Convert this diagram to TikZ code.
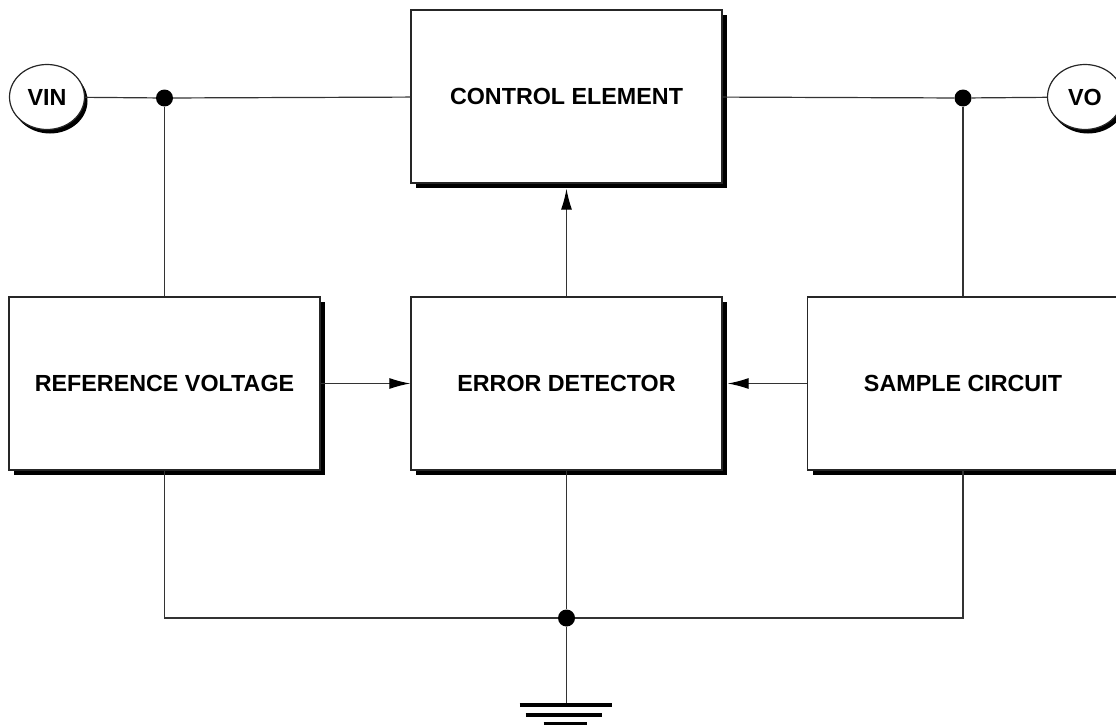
\documentclass[tikz,border=0pt]{standalone}
\usepackage{fontspec}
\setmainfont{Liberation Sans}
\usetikzlibrary{shapes.geometric, shadows, arrows.meta}

\begin{document}
\begin{tikzpicture}
[every node/.style={inner sep=0pt},
 block/.style={rectangle, draw=black!85, line width=1.4pt, fill=white, minimum width=311pt, minimum height=173pt,
   font=\bfseries\fontsize{23.3}{28}\selectfont,
   general shadow={fill=black, shadow xshift=5pt, shadow yshift=-5pt}},
 port/.style={ellipse, draw=black!85, line width=1.2pt, fill=white, minimum width=75pt, minimum height=65pt,
   font=\bfseries\fontsize{23.3}{28}\selectfont,
   general shadow={fill=black, shadow xshift=3pt, shadow yshift=-4pt}},
 dot/.style={circle, fill=black, minimum size=17pt},
 wire/.style={line width=1.2pt, color=black!80},
 sig/.style={wire, -{Latex[length=21pt, width=11pt, black]}},
 earth/.style={line width=4pt, color=black}]
\useasboundingbox (0pt, 0pt) rectangle (1116pt, -725pt);

% blocks
\node (ctrl) [block] at (566.5pt, -96.5pt) {CONTROL ELEMENT};
\node (ref) [block] at (164.5pt, -383.5pt) {REFERENCE VOLTAGE};
\node (err) [block] at (566.5pt, -383.5pt) {ERROR DETECTOR};
\node (smp) [block] at (963pt, -383.5pt) {SAMPLE CIRCUIT};

% terminals and junctions
\node (vin) [port] at (47pt, -97pt) {VIN};
\node (vo) [port] at (1085pt, -97pt) {VO};
\node (jin) [dot] at (164.5pt, -98pt) {};
\node (jout) [dot] at (963pt, -98pt) {};
\node (jgnd) [dot] at (566.5pt, -618pt) {};
\coordinate (gnd) at (566.5pt, -705pt);

% main line
\draw [wire] (vin) to (jin);
\draw [wire] (jin) to (ctrl);
\draw [wire] (ctrl) to (jout);
\draw [wire] (jout) to (vo);
\draw [wire] (jin) to (ref);
\draw [wire] (jout) to (smp);

% feedback
\draw [sig] (ref) to (err);
\draw [sig, shorten >=5pt] (smp) to (err);
\draw [sig, shorten >=5pt] (err) to (ctrl);

% common return
\draw [wire] (ref.south) |- (jgnd) -| (smp.south);
\draw [wire] (err) to (jgnd);
\draw [wire] (jgnd) to (gnd);
\draw [earth] ([xshift=-47pt]gnd) to ([xshift=45pt]gnd);
\draw [earth] ([xshift=-41pt, yshift=-10pt]gnd) to ([xshift=35pt, yshift=-10pt]gnd);
\draw [earth] ([xshift=-23pt, yshift=-19pt]gnd) to ([xshift=20pt, yshift=-19pt]gnd);
\end{tikzpicture}
\end{document}
